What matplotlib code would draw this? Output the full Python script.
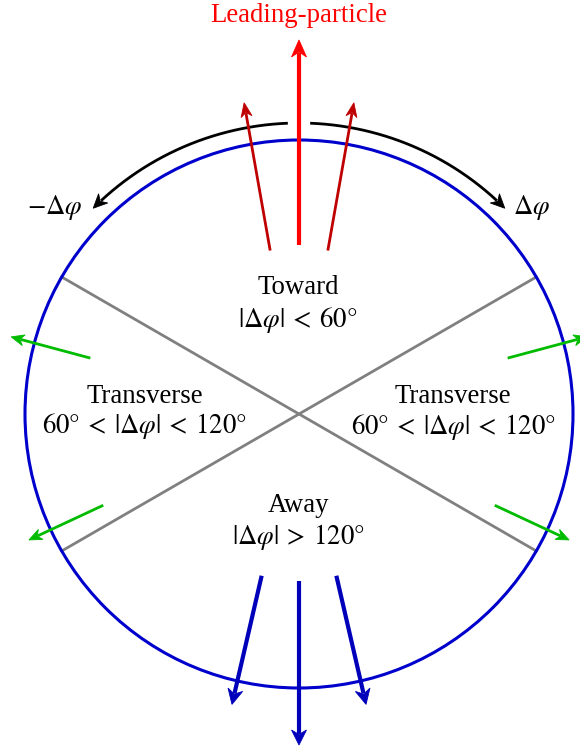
import numpy as np
import matplotlib
matplotlib.use("Agg")
import matplotlib.pyplot as plt
from matplotlib.patches import Circle, Polygon

plt.rcParams['font.family'] = 'serif'
plt.rcParams['font.serif'] = ['Liberation Serif', 'DejaVu Serif']
plt.rcParams['mathtext.fontset'] = 'stix'

# ---- data (angles in degrees of delta-phi, measured from the leading particle) ----
region_boundaries_deg = [60, 120]
leading_dir_deg = [0]
near_side_dirs_deg = [-10, 10]
transverse_dirs_deg = [-115, -75, 75, 115]
away_center_dir_deg = [180]
away_side_dirs_deg = [167, 193]
arc_span_deg = [2.2, 45]

region_names = ["Toward", "Transverse", "Transverse", "Away"]
region_conditions = [r"$|\Delta\varphi|\:<\:60\degree$",
                     r"$60\degree\:<\:|\Delta\varphi|\:<\:120\degree$",
                     r"$60\degree\:<\:|\Delta\varphi|\:<\:120\degree$",
                     r"$|\Delta\varphi|\:>\:120\degree$"]
arc_labels = [r"$-\Delta\varphi$", r"$\Delta\varphi$"]
title_text = "Leading-particle"

# ---- layout (pixel units) ----
W, H = 580, 748
cx, cy, R = 299, 414, 274
fs = 19.3

fig = plt.figure(figsize=(W / 100, H / 100), dpi=100)
ax = fig.add_axes([0, 0, 1, 1])
ax.set_xlim(0, W)
ax.set_ylim(H, 0)
ax.axis('off')


def pol(deg, r):
    a = np.deg2rad(deg)
    return np.array([cx + r * np.sin(a), cy - r * np.cos(a)])


def head(tip, u, color, hl, hw, z=5):
    n = np.array([-u[1], u[0]])
    pts = [tip,
           tip - u * hl + n * hw / 2,
           tip - u * hl * 0.7,
           tip - u * hl - n * hw / 2]
    ax.add_patch(Polygon(pts, closed=True, facecolor=color, edgecolor=color,
                         lw=0.6, joinstyle='miter', zorder=z))


def arrow(p0, p1, color, lw, hl, hw, z=5):
    p0 = np.asarray(p0, float)
    p1 = np.asarray(p1, float)
    u = (p1 - p0) / np.linalg.norm(p1 - p0)
    s = p1 - u * hl * 0.75
    ax.plot([p0[0], s[0]], [p0[1], s[1]], color=color, lw=lw,
            solid_capstyle='butt', zorder=z)
    head(p1, u, color, hl, hw, z)


# circle
ax.add_patch(Circle((cx, cy), R, fill=False, edgecolor='#0000CC', lw=2.2, zorder=3))

# region boundary lines (through centre)
for b in region_boundaries_deg:
    p0 = pol(b, R)
    p1 = pol(b + 180, R)
    ax.plot([p0[0], p1[0]], [p0[1], p1[1]], color='#808080', lw=2.0, zorder=2)

# leading particle
for d in leading_dir_deg:
    arrow(pol(d, 169), pol(d, 374), '#FF0000', 3.0, 17, 15)
# near-side associated
for d in near_side_dirs_deg:
    arrow(pol(d, 166), pol(d, 316), '#BF0000', 2.0, 14, 11)
# transverse
for d in transverse_dirs_deg:
    arrow(pol(d, 216), pol(d, 298), '#00BB00', 2.0, 13, 11)
# away side
for d in away_center_dir_deg:
    arrow(pol(d, 167), pol(d, 331), '#0000BB', 3.0, 15, 15)
for d in away_side_dirs_deg:
    arrow(pol(d, 166), pol(d, 298), '#0000BB', 3.0, 15, 15)

# delta-phi arcs
Ra = 291
for sgn in (-1, 1):
    a0, a1 = arc_span_deg
    t = np.linspace(a0, a1, 200) * sgn
    pts = np.array([pol(v, Ra) for v in t])
    tip = pts[-1]
    u = pts[-1] - pts[-3]
    u = u / np.linalg.norm(u)
    hl = 14
    dist = np.linalg.norm(pts - tip, axis=1)
    keep = dist > hl * 0.75
    ax.plot(pts[keep, 0], pts[keep, 1], color='black', lw=2.0,
            solid_capstyle='butt', zorder=4)
    head(tip, u, 'black', hl, 13, 4)

# texts
ax.text(299, 15, title_text, color='#FF0000', fontsize=fs, ha='center', va='center')
ax.text(55, 207, arc_labels[0], fontsize=fs, ha='center', va='center')
ax.text(532, 207, arc_labels[1], fontsize=fs, ha='center', va='center')

label_pos = [(298, 287, 320), (144.5, 396, 426), (453, 396, 427), (298, 505, 537)]
for (x, y1, y2), name, cond in zip(label_pos, region_names, region_conditions):
    ax.text(x, y1, name, fontsize=fs, ha='center', va='center')
    ax.text(x, y2, cond, fontsize=fs, ha='center', va='center')

fig.savefig("out.png", dpi=100)
